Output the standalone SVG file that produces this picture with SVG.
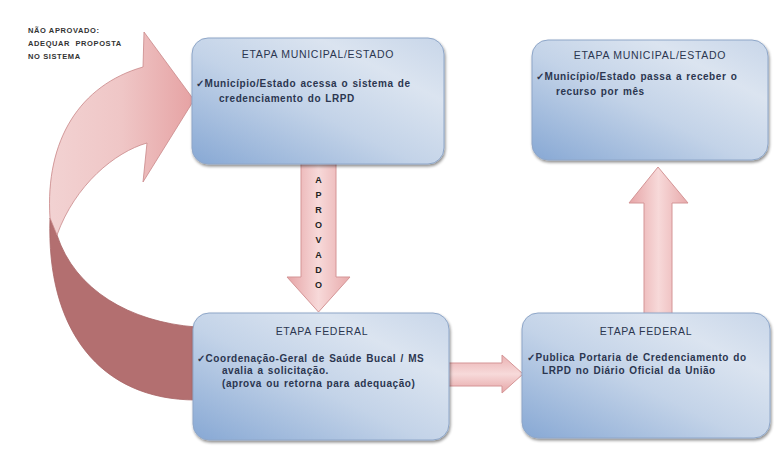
<svg xmlns="http://www.w3.org/2000/svg" width="774" height="466" viewBox="0 0 774 466">
<defs>
<linearGradient id="boxg" x1="0" y1="1" x2="1" y2="0">
<stop offset="0" stop-color="#87a8d4"/>
<stop offset="0.45" stop-color="#c3d3e8"/>
<stop offset="0.75" stop-color="#dbe4f0"/>
<stop offset="1" stop-color="#c8d6e9"/>
</linearGradient>
<linearGradient id="vArr" x1="0" y1="0" x2="1" y2="0">
<stop offset="0" stop-color="#e6a4a6"/>
<stop offset="0.5" stop-color="#f7d9d9"/>
<stop offset="1" stop-color="#e8aaab"/>
</linearGradient>
<linearGradient id="hArr" x1="0" y1="0" x2="0" y2="1">
<stop offset="0" stop-color="#eab0b1"/>
<stop offset="0.5" stop-color="#f7dada"/>
<stop offset="1" stop-color="#e6a5a6"/>
</linearGradient>
<linearGradient id="lightC" x1="0" y1="0" x2="1" y2="0">
<stop offset="0" stop-color="#f2d2d2"/>
<stop offset="0.5" stop-color="#efc6c6"/>
<stop offset="1" stop-color="#e6a2a3"/>
</linearGradient>
<filter id="sh" x="-10%" y="-10%" width="125%" height="130%">
<feGaussianBlur in="SourceAlpha" stdDeviation="1.5"/>
<feOffset dx="1" dy="2" result="b"/>
<feComponentTransfer><feFuncA type="linear" slope="0.45"/></feComponentTransfer>
<feMerge><feMergeNode/><feMergeNode in="SourceGraphic"/></feMerge>
</filter>
</defs>
<style>
.box{fill:url(#boxg);stroke:#8ea6c8;stroke-width:1;filter:url(#sh)}
.t{font-family:"Liberation Sans",Arial,sans-serif;font-size:10px;fill:#2b3650;font-weight:bold;letter-spacing:0.55px;word-spacing:1px}
.ttl{text-anchor:middle;font-weight:normal;font-size:10.5px;letter-spacing:0.7px;word-spacing:0}
.arr{stroke:#d49596;stroke-width:1}
.lt{font-family:"Liberation Sans",Arial,sans-serif;font-size:9px;font-weight:bold;fill:#222;text-anchor:middle}
.nt{font-family:"Liberation Sans",Arial,sans-serif;font-size:7.5px;font-weight:bold;fill:#333;letter-spacing:0.6px}
</style>
<rect width="774" height="466" fill="#ffffff"/>
<g id="connectors">
<path id="curved-back" d="M50,218 C46,330 100,400 196,400 L196,327 C130,322 75,290 57,235 Z" fill="#b36f70" stroke="#a86566" stroke-width="0.8"/>
<path id="curved-front" d="M144,32 L194,100 L143,182 L147,143 C115,152 75,185 57,235 L50,218 C45,140 80,85 143,67 Z" fill="url(#lightC)" stroke="#c98889" stroke-width="0.8"/>
<polygon id="arrow-down" class="arr" points="301,163 336,163 336,277 350,277 318.5,312 287,277 301,277" fill="url(#vArr)"/>
<g class="lt">
<text x="318.5" y="183">A</text>
<text x="318.5" y="198">P</text>
<text x="318.5" y="213">R</text>
<text x="318.5" y="228">O</text>
<text x="318.5" y="243">V</text>
<text x="318.5" y="258">A</text>
<text x="318.5" y="273">D</text>
<text x="318.5" y="288">O</text>
</g>
<polygon id="arrow-up" class="arr" points="644,316 672,316 672,203 688,203 658,167 629,203 644,203" fill="url(#vArr)"/>
<polygon id="arrow-right" class="arr" points="444,363 502,363 502,355 523,374 502,393 502,386 444,386" fill="url(#hArr)"/>
</g>
<g id="note">
<text class="nt" x="28" y="33">NÃO APROVADO:</text>
<text class="nt" x="28" y="46" xml:space="preserve">ADEQUAR  PROPOSTA</text>
<text class="nt" x="28" y="59">NO SISTEMA</text>
</g>
<g id="box-municipal-1">
<rect class="box" x="192" y="38" width="252" height="126" rx="16"/>
<text class="t ttl" x="318" y="58">ETAPA MUNICIPAL/ESTADO</text>
<text class="t" x="196" y="87">✓Município/Estado acessa o sistema de</text>
<text class="t" x="219" y="102">credenciamento do LRPD</text>
</g>
<g id="box-municipal-2">
<rect class="box" x="532" y="40" width="236" height="120" rx="16"/>
<text class="t ttl" x="650" y="59">ETAPA MUNICIPAL/ESTADO</text>
<text class="t" x="536" y="80">✓Município/Estado passa a receber o</text>
<text class="t" x="556" y="95">recurso por mês</text>
</g>
<g id="box-federal-1">
<rect class="box" x="193" y="313" width="256" height="127" rx="16"/>
<text class="t ttl" x="322" y="335">ETAPA FEDERAL</text>
<text class="t" x="197" y="362">✓Coordenação-Geral de Saúde Bucal / MS</text>
<text class="t" x="222" y="374">avalia a solicitação.</text>
<text class="t" x="222" y="387">(aprova ou retorna para adequação)</text>
</g>
<g id="box-federal-2">
<rect class="box" x="522" y="313" width="248" height="125" rx="16"/>
<text class="t ttl" x="646" y="335">ETAPA FEDERAL</text>
<text class="t" x="527" y="361">✓Publica Portaria de Credenciamento do</text>
<text class="t" x="542" y="374">LRPD no Diário Oficial da União</text>
</g>
</svg>
